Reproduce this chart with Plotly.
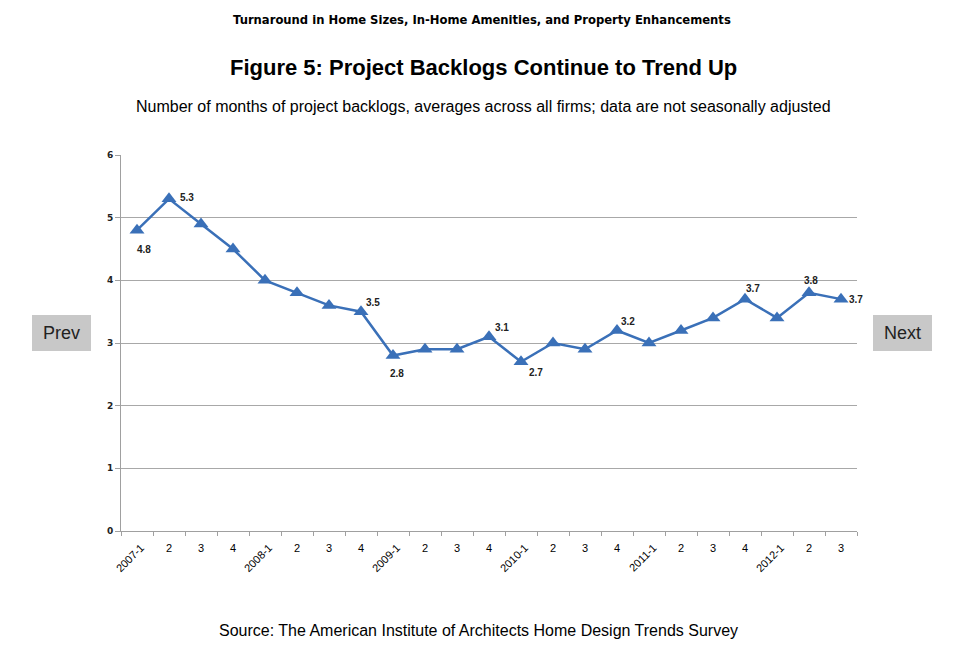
import plotly.graph_objects as go

categories = ["2007-1","2","3","4","2008-1","2","3","4","2009-1","2","3","4",
              "2010-1","2","3","4","2011-1","2","3","4","2012-1","2","3"]
values = [4.8, 5.3, 4.9, 4.5, 4.0, 3.8, 3.6, 3.5, 2.8, 2.9, 2.9, 3.1,
          2.7, 3.0, 2.9, 3.2, 3.0, 3.2, 3.4, 3.7, 3.4, 3.8, 3.7]
# data labels: index -> (xshift, yshift)
label_offsets = {0: (7, -19), 1: (18, 1), 7: (12, 9), 8: (4, -18), 11: (13, 9),
                 12: (15, -11), 15: (11, 9), 19: (8, 11), 21: (2, 12), 22: (15, 0)}
y_ticks = [0, 1, 2, 3, 4, 5, 6]

xs = list(range(len(categories)))
blue = "#3A70B8"

W, H = 955, 672
L, R, T, B = 121, 98, 155, 141
pw, ph = W - L - R, H - T - B
def px(x): return (x - L) / pw
def py(y): return (H - B - y) / ph

fig = go.Figure()
fig.add_trace(go.Scatter(
    x=xs, y=values, mode="lines+markers",
    line=dict(color=blue, width=2.5),
    marker=dict(symbol="triangle-up", size=13, color=blue),
    hoverinfo="skip", showlegend=False))

anns = []
for i, (dx, dy) in label_offsets.items():
    anns.append(dict(x=xs[i], y=values[i], xref="x", yref="y", text=f"<b>{values[i]:.1f}</b>",
                     showarrow=False, xshift=dx, yshift=dy,
                     font=dict(family="Arial", size=10, color="#222222")))
for i, lab in enumerate(categories):
    if "-" in lab:
        anns.append(dict(x=xs[i], y=0, xref="x", yref="y", text=lab, showarrow=False,
                         textangle=-45, xanchor="right", yanchor="top",
                         xshift=12, yshift=-8,
                         font=dict(family="Arial", size=11, color="#000")))
    else:
        anns.append(dict(x=xs[i], y=0, xref="x", yref="y", text=lab, showarrow=False,
                         xanchor="center", yanchor="middle", yshift=-17,
                         font=dict(family="Arial", size=11, color="#000")))

titles = [
    ("<b>Turnaround in Home Sizes, In-Home Amenities, and Property Enhancements</b>", 482, 20, "DejaVu Sans", 11.6),
    ("<b>Figure 5: Project Backlogs Continue to Trend Up</b>", 483, 68, "Arial", 22),
    ("Number of months of project backlogs, averages across all firms; data are not seasonally adjusted", 483, 106, "Arial", 16),
    ("Source: The American Institute of Architects Home Design Trends Survey", 478, 630, "Arial", 16),
]
for t, x, y, f, s in titles:
    anns.append(dict(x=px(x), y=py(y), xref="paper", yref="paper", text=t, showarrow=False,
                     xanchor="center", yanchor="middle", font=dict(family=f, size=s, color="#000")))
# Prev / Next buttons
for t, x0, x1 in [("Prev", 32, 91), ("Next", 873, 932)]:
    anns.append(dict(x=px((x0 + x1) / 2), y=py(333), xref="paper", yref="paper", text=t,
                     showarrow=False, font=dict(family="Liberation Sans", size=18, color="#222"),
                     xanchor="center", yanchor="middle"))

shapes = []
for x0, x1 in [(32, 91), (873, 932)]:
    shapes.append(dict(type="rect", xref="paper", yref="paper", x0=px(x0), x1=px(x1),
                       y0=py(351), y1=py(315), fillcolor="#C8C8C8", line=dict(width=0), layer="below"))

fig.update_layout(
    width=W, height=H, margin=dict(l=L, r=R, t=T, b=B),
    paper_bgcolor="white", plot_bgcolor="white",
    annotations=anns, shapes=shapes,
    xaxis=dict(range=[-0.5, len(categories) - 0.5], tickmode="array",
               tickvals=[i - 0.5 for i in range(len(categories) + 1)], ticktext=[""] * (len(categories) + 1),
               ticks="outside", ticklen=4, tickcolor="#A0A0A0", showgrid=False,
               showline=True, linecolor="#A0A0A0", linewidth=1, zeroline=False, fixedrange=True),
    yaxis=dict(range=[0, 6], tickvals=y_ticks, ticks="outside", ticklen=5, tickcolor="#A0A0A0",
               showgrid=True, gridcolor="#A8A8A8", gridwidth=1, showline=True, linecolor="#A0A0A0",
               zeroline=False, tickfont=dict(family="DejaVu Sans", size=9, color="#222", weight="bold"),
               fixedrange=True),
)

fig.write_html("out.html", config={"displayModeBar": False})
